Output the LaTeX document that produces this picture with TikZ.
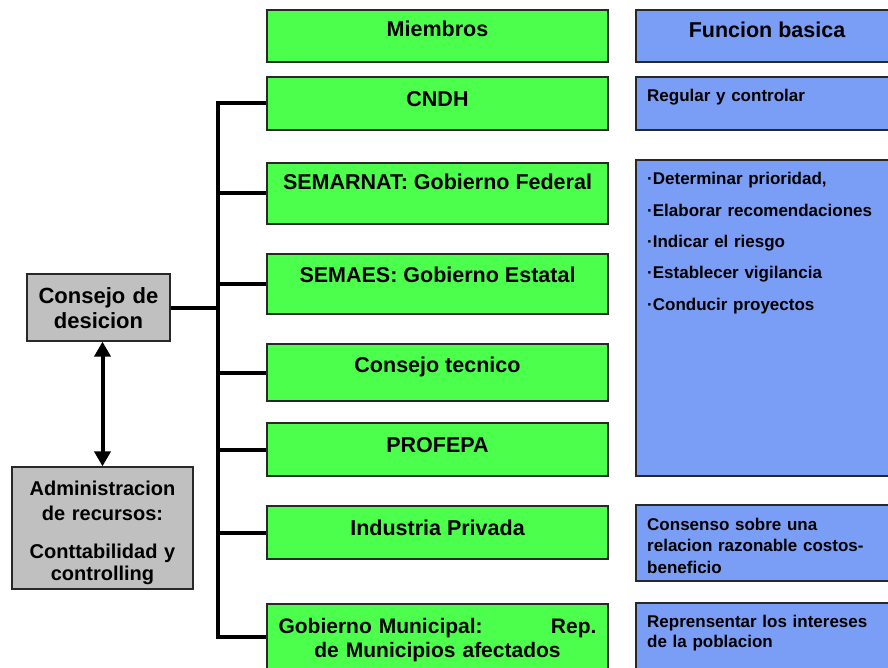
\documentclass[tikz,border=0pt]{standalone}
\usepackage{fontspec}
\setmainfont{Liberation Sans}
\usetikzlibrary{arrows.meta}
\definecolor{boxgreen}{RGB}{76,255,76}
\definecolor{boxblue}{RGB}{122,157,245}
\definecolor{boxgray}{RGB}{192,192,192}
\definecolor{boxline}{RGB}{40,40,40}
\tikzset{bus/.style={line width=4pt, line cap=rect}}

\begin{document}
\begin{tikzpicture}[x=1pt,y=-1pt,
    member/.style={draw=boxline, line width=1.3pt, fill=boxgreen, minimum width=341pt, inner sep=0pt},
    role/.style={draw=boxline, line width=1.3pt, fill=boxblue, minimum width=262pt, inner sep=0pt},
    office/.style={draw=boxline, line width=1.3pt, fill=boxgray, inner sep=0pt},
    big/.style={font=\fontsize{21.5}{25}\selectfont\bfseries, inner sep=0pt},
    small/.style={font=\fontsize{17}{21.5}\selectfont\bfseries, inner sep=0pt, text width=240pt, align=left}]
    \clip (0,0) rectangle (888,668);
    \fill[white] (0,0) rectangle (888,668);

    \node[member, minimum height=52pt] at (437.5,36) (miembros){};
    \node[member, minimum height=53pt] at (437.5,103.5) (cndh){};
    \node[member, minimum height=61pt] at (437.5,193.5) (semarnat){};
    \node[member, minimum height=60pt] at (437.5,284) (semaes){};
    \node[member, minimum height=57pt] at (437.5,372.5) (tecnico){};
    \node[member, minimum height=53pt] at (437.5,449.5) (profepa){};
    \node[member, minimum height=53pt] at (437.5,532.5) (industria){};
    \node[member, minimum height=66pt] at (437.5,637) (municipal){};

    \node[big, anchor=base] at (437.5,37) {Miembros};
    \node[big, anchor=base] at (437.5,107) {CNDH};
    \node[big, anchor=base] at (437.5,190) {SEMARNAT: Gobierno Federal};
    \node[big, anchor=base] at (437.5,282) {SEMAES: Gobierno Estatal};
    \node[big, anchor=base] at (437.5,372) {Consejo tecnico};
    \node[big, anchor=base] at (437.5,452) {PROFEPA};
    \node[big, anchor=base] at (437.5,535) {Industria Privada};
    \node[big, anchor=base, text width=318pt, align=center, font=\fontsize{21}{24}\selectfont\bfseries] at (437.5,633)
        {Gobierno Municipal:\hfill Rep.\\de Municipios afectados};

    \node[role, minimum height=52pt] at (767,36) (funcion){};
    \node[role, minimum height=53pt] at (767,103.5) (regular){};
    \node[role, minimum height=316pt] at (767,318) (tareas){};
    \node[role, minimum height=76pt] at (767,543) (consenso){};
    \node[role, minimum height=77pt] at (767,641.5) (intereses){};

    \node[big, anchor=base] at (767,38) {Funcion basica};
    \node[small, anchor=base west] at (647,102) {Regular y controlar};
    \node[small, anchor=base west, font=\fontsize{17}{31.3}\selectfont\bfseries] at (647,185)
        {·Determinar prioridad,\\·Elaborar recomendaciones\\·Indicar el riesgo\\·Establecer vigilancia\\·Conducir proyectos};
    \node[small, anchor=base west] at (647,530) {Consenso sobre una\\relacion razonable costos-\\beneficio};
    \node[small, anchor=base west, font=\fontsize{17}{20}\selectfont\bfseries] at (647,627) {Reprensentar los intereses\\de la poblacion};

    \node[office, minimum width=143pt, minimum height=67pt] at (98.5,307.5) (consejo){};
    \node[office, minimum width=181pt, minimum height=122pt] at (102.5,528) (recursos){};
    \node[big, anchor=base, text width=140pt, align=center, font=\fontsize{22}{25}\selectfont\bfseries] at (98.5,303) {Consejo de\\desicion};
    \node[big, anchor=base, text width=178pt, align=center, font=\fontsize{20}{25}\selectfont\bfseries] at (102.5,495) {Administracion\\de recursos:};
    \node[big, anchor=base, text width=178pt, align=center, font=\fontsize{20}{22}\selectfont\bfseries] at (102.5,558) {Conttabilidad y\\controlling};

    \coordinate (trunk) at (218,307.5);
    \draw[bus] (trunk |- cndh.west) -- (trunk |- municipal.west);
    \foreach \m in {cndh,semarnat,semaes,tecnico,profepa,industria,municipal}
        \draw[bus, line cap=butt] (trunk |- \m.west) -- (\m.west);
    \draw[bus, line cap=butt] (consejo.east) -- (trunk);
    \draw[line width=4pt, {Triangle[length=15pt,width=16pt]}-{Triangle[length=15pt,width=16pt]}]
        (recursos.north) -- (recursos.north |- consejo.south);
\end{tikzpicture}
\end{document}
